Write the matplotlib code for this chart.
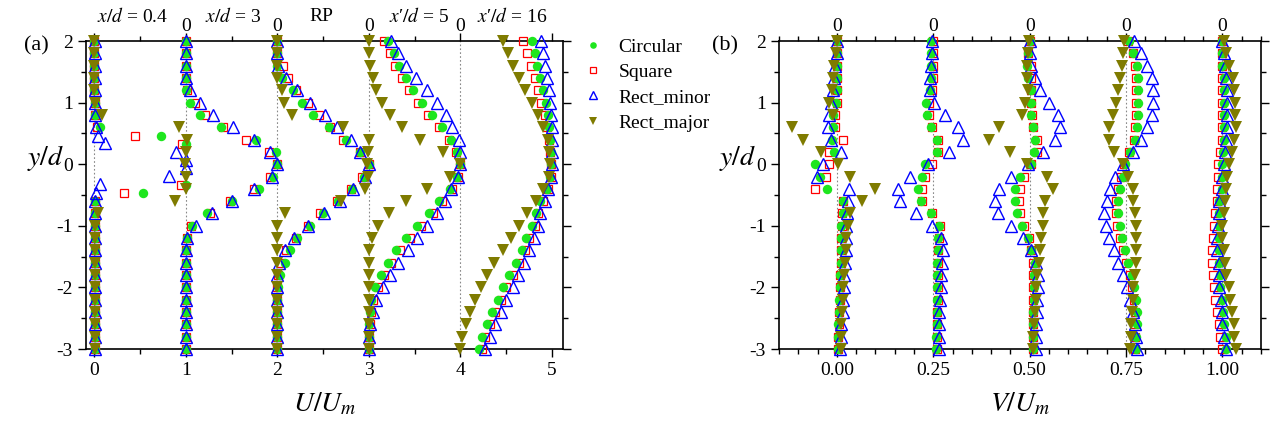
import matplotlib.pyplot as plt
from matplotlib.ticker import MultipleLocator, FixedLocator
from matplotlib.lines import Line2D

plt.rcParams['font.family'] = ['Liberation Serif', 'DejaVu Serif']
plt.rcParams['mathtext.fontset'] = 'stix'

# ---------------- data ----------------
y_full = [2.0, 1.8, 1.6, 1.4, 1.2, 1.0, 0.8, 0.6, 0.4, 0.2, 0.0, -0.2, -0.4,
          -0.6, -0.8, -1.0, -1.2, -1.4, -1.6, -1.8, -2.0, -2.2, -2.4, -2.6, -2.8, -3.0]

# panel (a): U/Um profiles, x/d = 0.4 has extra points in the shear layer
y_circ_04 = [2.0, 1.8, 1.6, 1.4, 1.2, 1.0, 0.8, 0.6, 0.46, 0.33, -0.33, -0.46,
             -0.6, -0.8, -1.0, -1.2, -1.4, -1.6, -1.8, -2.0, -2.2, -2.4, -2.6, -2.8, -3.0]
u_circ_04 = [0.0, 0.0, 0.0, 0.0, 0.0, 0.01, 0.01, 0.06, 0.73, 1.0, 1.0, 0.53,
             0.01, 0.01, 0.01, 0.01, 0.01, 0.01, 0.01, 0.01, 0.01, 0.01, 0.01, 0.01, 0.01]
y_sq_04 = y_circ_04
u_sq_04 = [0.0, 0.0, 0.0, 0.0, 0.0, 0.01, 0.01, 0.03, 0.45, 0.96, 0.95, 0.32,
           0.01, 0.01, 0.01, 0.01, 0.01, 0.01, 0.01, 0.01, 0.01, 0.01, 0.01, 0.01, 0.01]
y_rmin_04 = [2.0, 1.8, 1.6, 1.4, 1.2, 1.0, 0.8, 0.6, 0.46, 0.34, 0.2, 0.07, -0.06, -0.19, -0.32, -0.46,
             -0.6, -0.8, -1.0, -1.2, -1.4, -1.6, -1.8, -2.0, -2.2, -2.4, -2.6, -2.8, -3.0]
u_rmin_04 = [0.01, 0.01, 0.01, 0.01, 0.01, 0.01, 0.01, 0.02, 0.04, 0.12, 0.89, 1.0, 1.0, 0.82, 0.06, 0.02,
             0.01, 0.01, 0.01, 0.01, 0.01, 0.01, 0.01, 0.01, 0.01, 0.01, 0.01, 0.01, 0.01]
u_rmaj_04 = [0.0, 0.0, 0.0, 0.0, 0.0, 0.01, 0.08, 0.93, 1.01, 1.0, 0.99, 1.0, 1.0,
             0.88, 0.04, 0.01, 0.01, 0.01, 0.01, 0.01, 0.01, 0.01, 0.01, 0.01, 0.01, 0.01]

u_circ_3 = [0.0, 0.0, 0.0, 0.0, 0.0, 0.05, 0.15, 0.38, 0.77, 0.98, 1.0, 0.95, 0.80,
            0.50, 0.23, 0.07, 0.01, 0.0, 0.0, 0.0, 0.0, 0.0, 0.0, 0.0, 0.0, 0.0]
u_sq_3 = [0.0, 0.0, 0.0, 0.0, 0.01, 0.10, 0.21, 0.41, 0.66, 0.91, 1.0, 0.915, 0.74,
          0.48, 0.26, 0.06, 0.01, 0.0, 0.0, 0.0, 0.0, 0.0, 0.0, 0.0, 0.0, 0.0]
u_rmin_3 = [0.0, 0.0, 0.0, 0.0, 0.05, 0.15, 0.30, 0.52, 0.74, 0.92, 1.0, 0.94, 0.74,
            0.50, 0.29, 0.11, 0.01, 0.0, 0.0, 0.0, 0.0, 0.0, 0.0, 0.0, 0.0, 0.0]

u_circ_rp = [0.0, 0.0, 0.0, 0.05, 0.17, 0.27, 0.39, 0.56, 0.745, 0.90, 1.0, 0.95, 0.82,
             0.66, 0.50, 0.36, 0.22, 0.14, 0.08, 0.03, 0.01, 0.0, 0.0, 0.0, 0.0, 0.0]
u_sq_rp = [0.0, 0.0, 0.06, 0.12, 0.20, 0.34, 0.45, 0.58, 0.72, 0.90, 1.0, 0.93, 0.80,
           0.65, 0.47, 0.33, 0.20, 0.10, 0.04, 0.01, 0.0, 0.0, 0.0, 0.0, 0.0, 0.0]
u_rmin_rp = [0.0, 0.0, 0.01, 0.10, 0.22, 0.355, 0.52, 0.65, 0.80, 0.90, 1.0, 0.96, 0.83,
             0.68, 0.51, 0.34, 0.18, 0.08, 0.02, 0.0, 0.0, 0.0, 0.0, 0.0, 0.0, 0.0]
u_rmaj_rp = [0.0, 0.0, 0.0, 0.0, 0.05, 0.07, 0.16, 0.72, 1.0, 0.985, 0.975, 0.99, 0.96,
             0.70, 0.08, 0.0, 0.0, 0.0, 0.0, 0.0, 0.0, 0.0, 0.0, 0.0, 0.0, 0.0]

u_circ_5 = [0.21, 0.27, 0.33, 0.40, 0.48, 0.58, 0.69, 0.80, 0.90, 0.96, 0.99, 0.96, 0.89,
            0.77, 0.66, 0.53, 0.41, 0.30, 0.21, 0.13, 0.07, 0.02, 0.01, 0.0, 0.0, 0.0]
u_sq_5 = [0.17, 0.23, 0.29, 0.36, 0.44, 0.54, 0.65, 0.77, 0.88, 0.95, 0.99, 0.97, 0.91,
          0.80, 0.70, 0.57, 0.45, 0.34, 0.24, 0.16, 0.10, 0.05, 0.02, 0.01, 0.0, 0.0]
u_rmin_5 = [0.24, 0.32, 0.41, 0.52, 0.64, 0.74, 0.84, 0.91, 0.98, 0.99, 1.0, 0.97, 0.90,
            0.83, 0.74, 0.64, 0.53, 0.43, 0.32, 0.23, 0.15, 0.08, 0.04, 0.01, 0.0, 0.0]
u_rmaj_5 = [0.0, 0.0, 0.01, 0.04, 0.08, 0.14, 0.23, 0.36, 0.56, 0.81, 0.99, 0.89, 0.64,
            0.41, 0.22, 0.10, 0.03, 0.0, 0.0, 0.0, 0.0, 0.0, 0.0, 0.0, 0.0, 0.0]

u_circ_16 = [0.78, 0.81, 0.84, 0.87, 0.90, 0.93, 0.96, 0.97, 0.98, 0.985, 0.985, 0.98, 0.95,
             0.87, 0.825, 0.78, 0.72, 0.67, 0.61, 0.53, 0.47, 0.41, 0.35, 0.29, 0.24, 0.20]
u_sq_16 = [0.68, 0.73, 0.77, 0.81, 0.85, 0.88, 0.92, 0.95, 0.97, 0.98, 0.99, 0.99, 0.96,
           0.90, 0.85, 0.81, 0.75, 0.70, 0.64, 0.57, 0.50, 0.44, 0.38, 0.32, 0.27, 0.23]
u_rmin_16 = [0.88, 0.90, 0.92, 0.95, 0.97, 0.98, 0.99, 1.0, 1.0, 1.0, 1.0, 0.99, 0.96,
             0.92, 0.87, 0.85, 0.80, 0.75, 0.69, 0.63, 0.57, 0.50, 0.44, 0.38, 0.32, 0.27]
u_rmaj_16 = [0.46, 0.52, 0.57, 0.64, 0.71, 0.785, 0.85, 0.905, 0.96, 0.97, 0.98, 0.97, 0.90,
             0.825, 0.73, 0.64, 0.55, 0.46, 0.37, 0.29, 0.22, 0.16, 0.10, 0.06, 0.02, 0.0]

# panel (b): V/Um profiles (all on y_full)
v_circ_04 = [0.0, 0.0, 0.0, 0.0, 0.0, -0.001, -0.009, -0.009, -0.013, -0.007, -0.057, -0.045, -0.025,
             0.015, 0.015, 0.012, 0.012, 0.011, 0.01, 0.009, 0.008, 0.006, 0.005, 0.003, 0.002, 0.002]
v_sq_04 = [0.0, 0.0, 0.0, 0.0, 0.0, 0.0, -0.005, -0.005, 0.016, -0.02, -0.02, -0.028, -0.057,
           0.015, 0.014, 0.013, 0.012, 0.011, 0.01, 0.009, 0.008, 0.007, 0.006, 0.005, 0.004, 0.004]
v_rmin_04 = [0.0, 0.0, -0.005, -0.008, -0.009, -0.014, -0.02, -0.022, -0.016, 0.01, -0.036, -0.051, 0.032,
             0.03, 0.027, 0.025, 0.023, 0.023, 0.02, 0.019, 0.018, 0.016, 0.015, 0.012, 0.01, 0.008]
v_rmaj_04 = [0.0, -0.003, -0.007, -0.011, -0.013, -0.02, -0.009, -0.116, -0.087, -0.041, 0.002, 0.034, 0.099,
             0.064, 0.034, 0.03, 0.025, 0.023, 0.021, 0.019, 0.016, 0.015, 0.013, 0.012, 0.012, 0.012]

v_circ_3 = [-0.005, -0.005, -0.005, -0.005, -0.008, -0.019, -0.017, -0.007, 0.011, 0.009, -0.022, -0.03, -0.039,
            -0.033, -0.007, 0.014, 0.012, 0.012, 0.011, 0.011, 0.01, 0.01, 0.009, 0.009, 0.008, 0.008]
v_sq_3 = [0.0, 0.0, 0.0, 0.0, -0.003, -0.012, -0.012, -0.003, 0.012, 0.013, -0.004, -0.022, -0.03,
          -0.028, -0.004, 0.017, 0.014, 0.013, 0.013, 0.012, 0.012, 0.012, 0.011, 0.011, 0.01, 0.01]
v_rmin_3 = [-0.002, -0.004, -0.007, -0.009, -0.009, 0.003, 0.03, 0.065, 0.078, 0.042, -0.013, -0.059, -0.092,
            -0.086, -0.045, -0.002, 0.02, 0.024, 0.023, 0.02, 0.019, 0.017, 0.016, 0.015, 0.015, 0.016]

v_circ_rp = [0.0, -0.005, -0.006, -0.004, 0.003, 0.004, 0.004, 0.009, 0.013, 0.012, 0.004, -0.026, -0.039,
             -0.039, -0.032, -0.02, -0.003, 0.004, 0.013, 0.012, 0.012, 0.011, 0.01, 0.01, 0.009, 0.009]
v_sq_rp = [0.0, -0.004, 0.004, 0.004, 0.004, 0.004, 0.007, 0.009, 0.02, 0.02, 0.004, -0.015, -0.024,
           -0.028, -0.026, -0.015, -0.002, 0.003, 0.008, 0.009, 0.01, 0.01, 0.01, 0.01, 0.009, 0.009]
v_rmin_rp = [0.0, 0.0, 0.004, 0.013, 0.026, 0.049, 0.073, 0.08, 0.065, 0.035, -0.003, -0.048, -0.08,
             -0.091, -0.082, -0.049, -0.017, 0.004, 0.017, 0.022, 0.022, 0.02, 0.019, 0.017, 0.017, 0.016]
v_rmaj_rp = [-0.002, -0.004, -0.007, -0.006, -0.003, -0.011, -0.02, -0.08, -0.105, -0.052, -0.006, 0.045, 0.06,
             0.039, 0.035, 0.035, 0.03, 0.026, 0.023, 0.02, 0.017, 0.016, 0.013, 0.011, 0.009, 0.009]

v_circ_5 = [0.008, 0.019, 0.028, 0.03, 0.03, 0.03, 0.03, 0.028, 0.023, 0.01, -0.003, -0.007, -0.016,
            -0.02, -0.022, -0.016, -0.01, -0.003, 0.006, 0.015, 0.021, 0.026, 0.028, 0.028, 0.026, 0.026]
v_sq_5 = [0.006, 0.017, 0.024, 0.026, 0.026, 0.026, 0.026, 0.024, 0.02, 0.007, -0.006, -0.012, -0.021,
          -0.025, -0.027, -0.023, -0.016, -0.008, 0.001, 0.01, 0.016, 0.021, 0.023, 0.023, 0.022, 0.022]
v_rmin_5 = [0.021, 0.038, 0.055, 0.067, 0.071, 0.071, 0.067, 0.054, 0.038, 0.017, -0.007, -0.028, -0.042,
            -0.05, -0.056, -0.052, -0.043, -0.03, -0.02, -0.009, 0.002, 0.01, 0.017, 0.022, 0.025, 0.028]
v_rmaj_5 = [-0.005, -0.009, -0.011, -0.016, -0.02, -0.026, -0.035, -0.043, -0.043, -0.031, -0.007, 0.004, 0.017,
            0.019, 0.023, 0.026, 0.026, 0.025, 0.025, 0.023, 0.019, 0.017, 0.015, 0.013, 0.012, 0.01]

v_circ_16 = [-0.002, -0.002, 0.0, 0.004, 0.005, 0.005, 0.005, 0.005, 0.005, 0.002, 0.0, 0.0, -0.002,
             -0.008, -0.008, -0.009, -0.009, -0.009, -0.008, -0.007, -0.005, -0.002, 0.002, 0.005, 0.008, 0.01]
v_sq_16 = [-0.002, -0.002, 0.0, 0.0, 0.0, 0.0, 0.0, -0.002, -0.002, -0.006, -0.012, -0.012, -0.015,
           -0.015, -0.019, -0.023, -0.025, -0.028, -0.028, -0.025, -0.022, -0.019, -0.015, -0.01, -0.006, 0.0]
v_rmin_16 = [0.0, 0.003, 0.007, 0.01, 0.011, 0.013, 0.013, 0.013, 0.01, 0.007, 0.003, 0.0, -0.002,
             -0.008, -0.01, -0.012, -0.013, -0.013, -0.01, -0.01, -0.008, -0.004, -0.002, 0.0, 0.005, 0.01]
v_rmaj_16 = [0.003, 0.01, 0.018, 0.027, 0.031, 0.033, 0.033, 0.035, 0.031, 0.024, 0.016, 0.011, 0.01,
             0.007, 0.003, 0.0, 0.0, 0.003, 0.007, 0.01, 0.016, 0.02, 0.024, 0.029, 0.031, 0.035]

station_titles = [r'$x/d$ = 0.4', r'$x/d$ = 3', 'RP', '$x$\u2032$/d$ = 5', '$x$\u2032$/d$ = 16']
title_pos = [0.42, 1.52, 2.48, 3.55, 4.57]
offsets_a = [0, 1, 2, 3, 4]
offsets_b = [0.0, 0.25, 0.5, 0.75, 1.0]
series_names = ['Circular', 'Square', 'Rect_minor', 'Rect_major']

# ---------------- styles ----------------
green = '#1ee61e'
olive = '#7f7b00'
sty = {
    'Circular': dict(marker='o', ms=6.8, mfc=green, mec=green, mew=0, zorder=4),
    'Square': dict(marker='s', ms=5.6, mfc='none', mec='red', mew=0.9, zorder=3),
    'Rect_minor': dict(marker='^', ms=8.2, mfc='none', mec='blue', mew=1.0, zorder=5),
    'Rect_major': dict(marker='v', ms=8.8, mfc=olive, mec=olive, mew=0, zorder=6),
}

fig = plt.figure(figsize=(12.7, 4.25), dpi=100)
ax_a = fig.add_axes([0.0677, 0.1788, 0.3756, 0.7247])
ax_b = fig.add_axes([0.6134, 0.1788, 0.3795, 0.7247])

# panel (a) profiles
prof_a = {
    'Circular': [(y_circ_04, u_circ_04), (y_full, u_circ_3), (y_full, u_circ_rp), (y_full, u_circ_5), (y_full, u_circ_16)],
    'Square': [(y_sq_04, u_sq_04), (y_full, u_sq_3), (y_full, u_sq_rp), (y_full, u_sq_5), (y_full, u_sq_16)],
    'Rect_minor': [(y_rmin_04, u_rmin_04), (y_full, u_rmin_3), (y_full, u_rmin_rp), (y_full, u_rmin_5), (y_full, u_rmin_16)],
    'Rect_major': [(y_full, u_rmaj_04), None, (y_full, u_rmaj_rp), (y_full, u_rmaj_5), (y_full, u_rmaj_16)],
}
for name in series_names:
    for off, prof in zip(offsets_a, prof_a[name]):
        if prof is None:
            continue
        yy, uu = prof
        ax_a.plot([off + u for u in uu], yy, ls='none', clip_on=False, **sty[name])

prof_b = {
    'Circular': [v_circ_04, v_circ_3, v_circ_rp, v_circ_5, v_circ_16],
    'Square': [v_sq_04, v_sq_3, v_sq_rp, v_sq_5, v_sq_16],
    'Rect_minor': [v_rmin_04, v_rmin_3, v_rmin_rp, v_rmin_5, v_rmin_16],
    'Rect_major': [v_rmaj_04, None, v_rmaj_rp, v_rmaj_5, v_rmaj_16],
}
for name in series_names:
    for off, vv in zip(offsets_b, prof_b[name]):
        if vv is None:
            continue
        ax_b.plot([off + v for v in vv], y_full, ls='none', clip_on=False, **sty[name])

# ---------------- axes styling ----------------
def style_axis(ax, xlim, major, minor, offsets, top_pos, top_labels, fmt):
    ax.set_xlim(*xlim)
    ax.set_ylim(-3, 2)
    for o in offsets:
        ax.axvline(o, ls=(0, (1.5, 2)), color='#888888', lw=0.8, zorder=1)
    ax.xaxis.set_major_locator(MultipleLocator(major))
    ax.xaxis.set_minor_locator(MultipleLocator(minor))
    ax.yaxis.set_major_locator(MultipleLocator(1))
    ax.yaxis.set_minor_locator(MultipleLocator(0.5))
    ax.xaxis.set_major_formatter(plt.FuncFormatter(fmt))
    ax.yaxis.set_major_formatter(plt.FuncFormatter(lambda v, p: f'{v:.0f}'))
    ax.tick_params(which='both', direction='out', top=True, right=True, labelsize=14, width=1)
    ax.tick_params(which='major', length=6)
    ax.tick_params(which='minor', length=3.5)
    for s in ax.spines.values():
        s.set_linewidth(1.2)
    sec = ax.secondary_xaxis('top')
    sec.xaxis.set_major_locator(FixedLocator(top_pos))
    sec.xaxis.set_minor_locator(FixedLocator([]))
    sec.set_xticklabels(top_labels)
    sec.tick_params(length=0, labelsize=14, pad=4)
    sec.spines['top'].set_visible(False)
    ax.set_ylabel(r'$y/d$', fontsize=20, rotation=0, va='center')
    ax.yaxis.set_label_coords(-0.085, 0.62)

style_axis(ax_a, (-0.09, 5.12), 1, 0.5, offsets_a, [1, 2, 3, 4],
           ['0', '0', '0', '0'], lambda v, p: f'{v:.0f}')
style_axis(ax_b, (-0.15, 1.10), 0.25, 0.05, offsets_b, offsets_b,
           ['0'] * 5, lambda v, p: f'{v:.2f}')

ax_a.set_xlabel(r'$U/U_m$', fontsize=20, labelpad=8)
ax_b.set_xlabel(r'$V/U_m$', fontsize=20, labelpad=8)

for t, xp in zip(station_titles, title_pos):
    ax_a.text(xp, 1.08, t, transform=ax_a.get_xaxis_transform(), ha='center', va='center', fontsize=14)

fig.text(0.029, 0.893, '(a)', fontsize=16, ha='center', va='center')
fig.text(0.571, 0.893, '(b)', fontsize=16, ha='center', va='center')

handles = [Line2D([], [], ls='none', **{k: v for k, v in sty[n].items() if k != 'zorder'}) for n in series_names]
fig.legend(handles, series_names, loc='upper left', bbox_to_anchor=(0.4455, 0.952), frameon=False,
           fontsize=14, markerscale=0.7, handlelength=1.0, handletextpad=0.8, labelspacing=0.4)

fig.savefig('out.png', dpi=100)
